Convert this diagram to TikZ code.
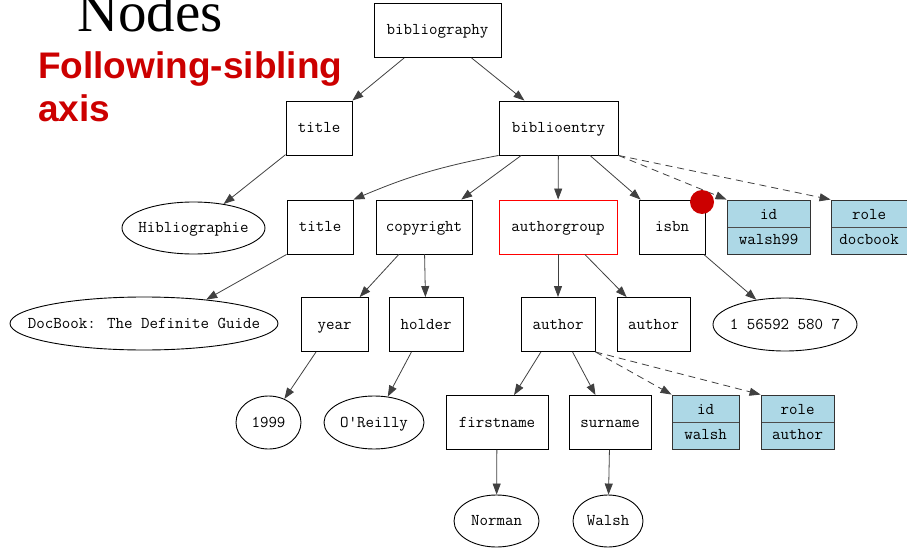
\documentclass[tikz,border=0pt]{standalone}
\usepackage{fontspec}
\usetikzlibrary{arrows.meta,shapes.geometric}
\newfontfamily\serifbig{Liberation Serif}
\newfontfamily\sansbold{Liberation Sans}
\definecolor{headred}{RGB}{204,0,0}
\definecolor{attrblue}{RGB}{173,216,230}
% text inside ovals is given no width, so the oval keeps the size that is set
\newcommand{\ovt}[1]{\makebox[0pt][c]{#1}}
\tikzset{
  lbl/.style={font=\ttfamily\fontsize{16.5}{18}\selectfont, inner sep=0pt,
    text height=9pt, text depth=0pt},
  box/.style={lbl, draw=black, line width=0.9pt, rectangle, minimum height=54pt},
  oval/.style={lbl, draw=black, line width=0.9pt, ellipse, minimum height=53pt},
  attr/.style={draw=black!80, line width=0.9pt, rectangle, minimum height=54pt,
    inner sep=0pt, fill=attrblue, align=center,
    font=\ttfamily\fontsize{16.5}{25.5}\selectfont,
    path picture={\draw[line width=0.9pt, black!70]
      (path picture bounding box.west) -- (path picture bounding box.east);}},
  edge/.style={draw=black!75, line width=0.8pt, -{Triangle[length=11pt,width=8pt]}},
  attredge/.style={edge, dash pattern=on 7pt off 5pt},
}
\begin{document}
\begin{tikzpicture}[x=1pt,y=1pt]
\useasboundingbox (0,0) rectangle (907,-548);

% headings
\node[anchor=base west, inner sep=0pt, font=\serifbig\fontsize{57}{60}\selectfont] (head) at (77,-32) {Nodes};
\node[anchor=base west, inner sep=0pt, text=headred, font=\sansbold\bfseries\fontsize{37}{44}\selectfont] (sub1) at (38,-79) {Following-sibling};
\node[anchor=base west, inner sep=0pt, text=headred, font=\sansbold\bfseries\fontsize{37}{44}\selectfont] (sub2) at (38,-122) {axis};

% element nodes
\node[box, minimum width=127pt] (bib)    at (437.5,-30.5) {bibliography};
\node[box, minimum width=66pt]  (title1) at (319,-128)    {title};
\node[box, minimum width=119pt] (bentry) at (558.5,-128)  {biblioentry};
\node[oval, minimum width=143pt, minimum height=52pt] (hib) at (193.5,-228) {\ovt{Hibliographie}};
\node[box, minimum width=66pt]  (title2) at (320,-227)    {title};
\node[box, minimum width=96pt]  (copy)   at (424,-227)    {copyright};
\node[box, minimum width=118pt, draw=red] (agroup) at (558,-227) {authorgroup};
\node[box, minimum width=66pt]  (isbn)   at (672,-227)    {isbn};
\node[attr, minimum width=83pt] (id1)    at (768.5,-227)  {id\\walsh99};
\node[attr, minimum width=76pt] (role1)  at (869,-227)    {role\\docbook};
\node[oval, minimum width=268pt] (dbk)   at (144,-323.5)  {\ovt{DocBook: The Definite Guide}};
\node[box, minimum width=67pt]  (year)   at (334.5,-324.5) {year};
\node[box, minimum width=74pt]  (holder) at (426,-324.5)  {holder};
\node[box, minimum width=74pt]  (auth1)  at (558,-324.5)  {author};
\node[box, minimum width=73pt]  (auth2)  at (653.5,-324.5) {author};
\node[oval, minimum width=144pt] (isbnv) at (785,-324.5)  {\ovt{1 56592 580 7}};
\node[oval, minimum width=65pt] (y1999)  at (268.5,-422.5) {\ovt{1999}};
\node[oval, minimum width=100pt] (oreilly) at (374,-422.5) {\ovt{O'Reilly}};
\node[box, minimum width=102pt] (first)  at (497,-422.5)  {firstname};
\node[box, minimum width=82pt]  (sur)    at (610,-422.5)  {surname};
\node[attr, minimum width=67pt] (id2)    at (705.5,-422)  {id\\walsh};
\node[attr, minimum width=73pt] (role2)  at (797.5,-422)  {role\\author};
\node[oval, minimum width=85pt, minimum height=52pt] (norman) at (496.5,-521) {\ovt{Norman}};
\node[oval, minimum width=70pt, minimum height=52pt] (walsh)  at (608,-521)   {\ovt{Walsh}};

% child edges
\draw[edge] (bib) -- (title1);
\draw[edge] (bib) -- (bentry);
\draw[edge] (title1) -- (hib);
\draw[edge] (bentry.south west) to[bend right=6] (title2.north east);
\draw[edge] (bentry) -- (copy);
\draw[edge] (bentry) -- (agroup);
\draw[edge] (bentry) -- (isbn);
\draw[edge] (title2.south west) -- (dbk.21);
\draw[edge] (copy) -- (year);
\draw[edge] (copy) -- (holder);
\draw[edge] (agroup) -- (auth1);
\draw[edge] (agroup) -- (auth2);
\draw[edge] (isbn) -- (isbnv);
\draw[edge] (year) -- (y1999);
\draw[edge] (holder) -- (oreilly);
\draw[edge] (auth1) -- (first);
\draw[edge] (auth1) -- (sur);
\draw[edge] (first) -- (norman);
\draw[edge] (sur) -- (walsh);

% attribute edges
\draw[attredge] (bentry.south east) -- (id1.north west);
\draw[attredge] (bentry.south east) -- (role1.north west);
\draw[attredge] (auth1.south east) -- (id2.north west);
\draw[attredge] (auth1.south east) -- (role2.north west);

% context marker
\fill[headred] (702,-202) circle[radius=12pt] coordinate (marker);
\end{tikzpicture}
\end{document}
